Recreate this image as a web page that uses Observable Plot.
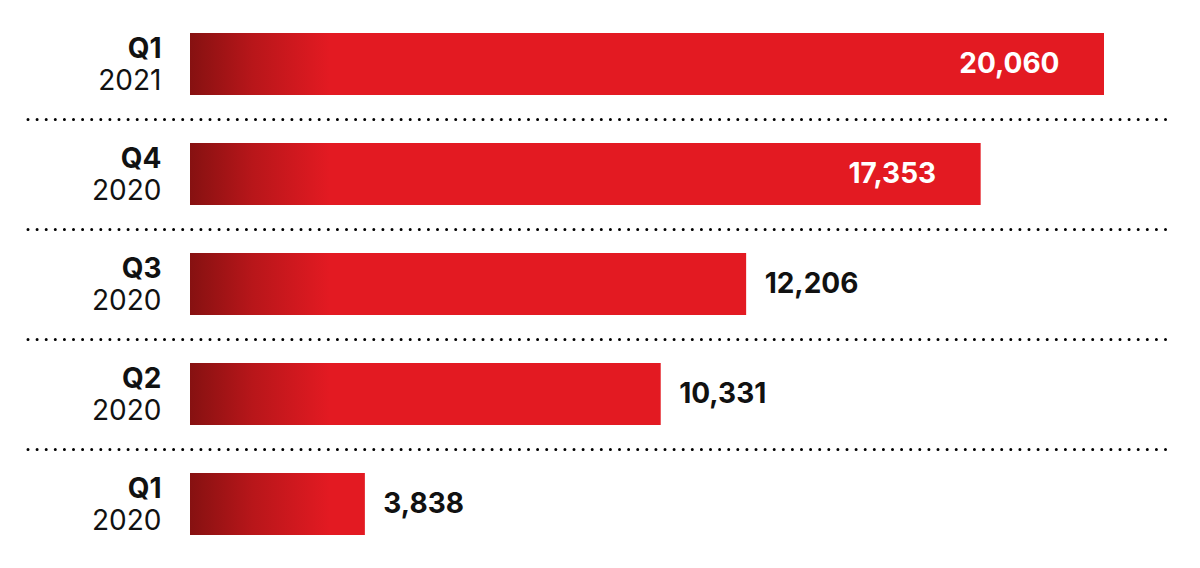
<!DOCTYPE html>
<html><head><meta charset="utf-8">
<script src="https://cdn.jsdelivr.net/npm/d3@7"></script>
<script src="https://cdn.jsdelivr.net/npm/@observablehq/plot@0.6"></script>
<style>body{margin:0;background:#fff} svg{display:block}</style>
</head><body><div id="chart"></div>
<script>
const quarters = ["Q1", "Q4", "Q3", "Q2", "Q1"];
const years = ["2021", "2020", "2020", "2020", "2020"];
const values = [20060, 17353, 12206, 10331, 3838];

const data = values.map((v, i) => ({
  key: quarters[i] + " " + years[i],
  quarter: quarters[i],
  year: years[i],
  value: v,
  inside: v > 15000
}));
const keys = data.map(d => d.key);
const font = "Inter, 'DejaVu Sans', sans-serif";

const chart = Plot.plot({
  width: 1200,
  height: 568,
  marginLeft: 28,
  marginRight: 30,
  marginTop: 0,
  marginBottom: 0,
  style: {fontFamily: font, background: "#fff", overflow: "visible"},
  x: {domain: [0, 20060], range: [190, 1104], axis: null},
  y: {domain: keys, range: [9, 559], paddingInner: 0.436, paddingOuter: 0.218, axis: null},
  marks: [
    Plot.ruleY(keys.slice(0, 4), {y: d => d, dy: 55, stroke: "#000", strokeWidth: 3, strokeDasharray: "0,9.1", strokeLinecap: "round"}),
    Plot.barX(data, {x: "value", y: "key", fill: "url(#barGrad)", inset: 0}),
    Plot.text(data, {x: 0, y: "key", text: "quarter", textAnchor: "end", dx: -29, dy: -15, fontSize: 28, fontWeight: 700, fill: "#111"}),
    Plot.text(data, {x: 0, y: "key", text: "year", textAnchor: "end", dx: -29, dy: 17, fontSize: 28, fontWeight: 400, fill: "#111"}),
    Plot.text(data.filter(d => d.inside), {x: "value", y: "key", text: d => d3.format(",")(d.value), textAnchor: "end", dx: -45, fontSize: 28, fontWeight: 700, fill: "#fff"}),
    Plot.text(data.filter(d => !d.inside), {x: "value", y: "key", text: d => d3.format(",")(d.value), textAnchor: "start", dx: 18, fontSize: 28, fontWeight: 700, fill: "#111"})
  ]
});

const x0 = chart.scale("x").apply(0);
const svg = d3.select(chart);
const grad = svg.insert("defs", ":first-child").append("linearGradient")
  .attr("id", "barGrad")
  .attr("gradientUnits", "userSpaceOnUse")
  .attr("x1", x0).attr("x2", x0 + 140).attr("y1", 0).attr("y2", 0);
grad.append("stop").attr("offset", "0%").attr("stop-color", "#861111");
grad.append("stop").attr("offset", "45%").attr("stop-color", "#b8161a");
grad.append("stop").attr("offset", "100%").attr("stop-color", "#e31a22");

document.getElementById("chart").appendChild(chart);
</script>
</body></html>
